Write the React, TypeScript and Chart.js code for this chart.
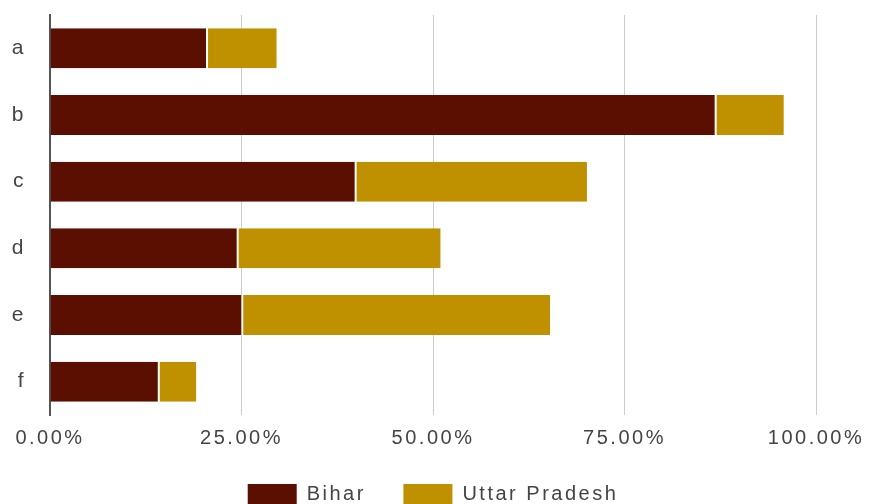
import React, { useEffect, useRef } from "react";
import { Chart, registerables } from "chart.js";

Chart.register(...registerables);

const categories = ["a", "b", "c", "d", "e", "f"];
const biharValues = [20.5, 86.9, 39.9, 24.5, 25.1, 14.2];
const upValues = [9.1, 8.9, 30.2, 26.5, 40.2, 4.9];
const seriesNames = ["Bihar", "Uttar Pradesh"];
const seriesColors = ["#5b0f00", "#bf9000"];
const xMin = 0;
const xMax = 100;
const xStep = 25;

const FONT_FAMILY = '"Liberation Sans", Arial, sans-serif';
const LS = "2.5px";

const spacingLegendPlugin = {
  id: "spacingLegend",
  beforeUpdate(chart: any) {
    chart.ctx.letterSpacing = LS;
  },
  beforeLayout(chart: any) {
    chart.ctx.letterSpacing = LS;
  },
  beforeDraw(chart: any) {
    chart.ctx.letterSpacing = LS;
  },
  afterDraw(chart: any) {
    const ctx = chart.ctx;
    const area = chart.chartArea;
    ctx.save();
    ctx.letterSpacing = LS;
    ctx.font = "20px " + FONT_FAMILY;
    const boxW = 49;
    const boxH = 20;
    const gapText = 10;
    const gapItem = 37.5;
    const widths = seriesNames.map((n) => ctx.measureText(n).width);
    let total = 0;
    widths.forEach((w, i) => {
      total += boxW + gapText + w + (i > 0 ? gapItem : 0);
    });
    let x = (area.left + area.right) / 2 - total / 2;
    const boxTop = 484;
    seriesNames.forEach((name, i) => {
      ctx.fillStyle = seriesColors[i];
      ctx.fillRect(x, boxTop, boxW, boxH);
      ctx.fillStyle = "#444";
      ctx.textBaseline = "alphabetic";
      ctx.textAlign = "left";
      ctx.fillText(name, x + boxW + gapText, 500);
      x += boxW + gapText + widths[i] + gapItem;
    });
    ctx.restore();
  },
};

export default function App() {
  const ref = useRef<HTMLCanvasElement | null>(null);

  useEffect(() => {
    if (!ref.current) return;
    const chart = new Chart(ref.current, {
      type: "bar",
      data: {
        labels: categories,
        datasets: [
          {
            label: seriesNames[0],
            data: biharValues,
            backgroundColor: seriesColors[0],
            borderColor: "rgba(255,255,255,0.85)",
            borderWidth: { left: 0, right: 1, top: 0, bottom: 0 },
            borderSkipped: false,
            categoryPercentage: 1,
            barPercentage: 0.6,
          },
          {
            label: seriesNames[1],
            data: upValues,
            backgroundColor: seriesColors[1],
            borderColor: "rgba(255,255,255,0.85)",
            borderWidth: { left: 1, right: 0, top: 0, bottom: 0 },
            borderSkipped: false,
            categoryPercentage: 1,
            barPercentage: 0.6,
          },
        ],
      },
      options: {
        indexAxis: "y",
        animation: false,
        responsive: true,
        maintainAspectRatio: false,
        layout: { padding: { top: 15, right: 53, bottom: 0, left: 0 } },
        plugins: {
          legend: { display: false },
          tooltip: { enabled: false },
        },
        scales: {
          x: {
            stacked: true,
            min: xMin,
            max: xMax,
            afterFit: (s: any) => {
              s.height = 89;
              s.paddingLeft = 0;
              s.paddingRight = 0;
            },
            ticks: {
              stepSize: xStep,
              color: "#444",
              padding: 11,
              font: { size: 20, family: FONT_FAMILY },
              maxRotation: 0,
              callback: (v: any) => Number(v).toFixed(2) + "%",
            },
            grid: { color: "#cccccc", lineWidth: 1, drawTicks: false },
            border: { display: false },
          },
          y: {
            stacked: true,
            afterFit: (s: any) => {
              s.width = 50;
              s.paddingTop = 0;
              s.paddingBottom = 0;
            },
            ticks: {
              color: "#444",
              padding: 24,
              font: { size: 21, family: FONT_FAMILY },
            },
            grid: { display: false, drawTicks: false },
            border: { display: true, color: "#555", width: 2 },
          },
        },
      },
      plugins: [spacingLegendPlugin],
    } as any);
    return () => chart.destroy();
  }, []);

  return (
    <div style={{ position: "fixed", left: 0, top: 0, width: 869, height: 504, background: "#fff" }}>
      <canvas ref={ref} />
    </div>
  );
}
